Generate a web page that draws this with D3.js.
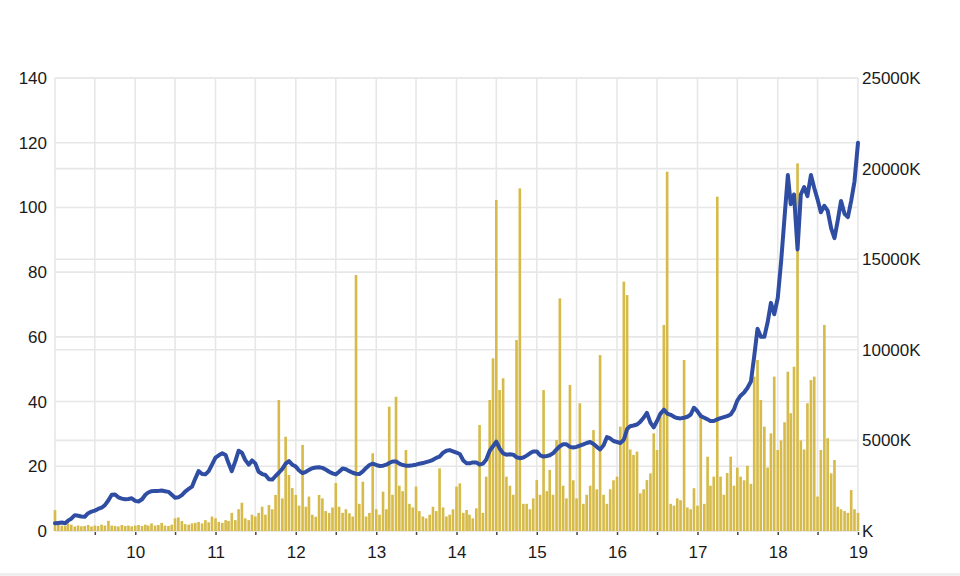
<!DOCTYPE html>
<html>
<head>
<meta charset="utf-8">
<script src="https://cdn.jsdelivr.net/npm/d3@7"></script>
<style>
  html, body { margin: 0; padding: 0; background: #ffffff; }
  svg { display: block; }
  text { font-family: "Liberation Sans", Arial, sans-serif; }
</style>
</head>
<body>
<svg id="chart" width="960" height="576"></svg>
<script>
// ---------------- DATA ----------------
// Semi-monthly observations (1st and 16th of each month), Jan 2009 .. Jan 2019
const startDate = "2009-01-01";
const endDate = "2019-01-01";

// Closing price (left axis)
const price = [
  // 2009
  2.4, 2.5, 2.6, 2.4, 3.2, 3.8, 4.9, 4.7, 4.5, 4.4, 5.5, 6, 6.3, 6.8, 7.2, 8, 9.5, 11.2, 11.3, 10.4, 10, 9.8, 9.9, 10.1,
  // 2010
  9.3, 9.1, 9.8, 11.2, 11.9, 12.3, 12.4, 12.4, 12.5, 12.3, 12.1, 11.2, 10.3, 10.4, 11.1, 12.2, 13, 13.7, 16.2, 18.5, 17.6, 17.5, 18.5, 20.5,
  // 2011
  22.7, 23.4, 24, 23.5, 21, 18.5, 21.5, 24.8, 24.2, 22, 20.5, 21.8, 20.9, 18.3, 17.6, 17.3, 16, 15.9, 17, 18, 19.2, 20.8, 21.6, 20.5,
  // 2012
  19.9, 18.7, 17.9, 18.3, 18.9, 19.4, 19.6, 19.7, 19.5, 19, 18.3, 17.8, 17.5, 18.3, 19.3, 19.1, 18.5, 18, 17.7, 17.6, 18.4, 19.5, 20.4, 20.8,
  // 2013
  20.4, 20.1, 20.2, 20.5, 21, 21.5, 21.5, 20.8, 20.4, 20.2, 20.2, 20.3, 20.5, 20.8, 21, 21.3, 21.6, 22, 22.6, 23, 24.2, 24.8, 25, 24.6,
  // 2014
  24.2, 23.8, 21.8, 20.9, 20.9, 21.2, 21.2, 20.5, 20.8, 22, 24.8, 26.2, 27.6, 25.5, 24, 23.6, 23.7, 23.6, 22.8, 22.5, 22.7, 23.3, 24, 24.6,
  // 2015
  24.6, 23.4, 23, 23.2, 23.4, 24, 25.2, 26.2, 26.8, 26.8, 26, 25.8, 26, 26.4, 26.8, 27.2, 27.5, 26.9, 26, 25.2, 26.5, 29, 28.6, 27.8,
  // 2016
  27.5, 27.2, 28.2, 31.5, 32.4, 32.6, 32.9, 33.8, 35, 36.5, 33.5, 32, 34, 36.2, 37.5, 36.3, 35.9, 35.3, 34.9, 34.8, 35, 35.3, 36, 38.1,
  // 2017
  37, 35.5, 35, 34.5, 34, 34, 34.5, 34.9, 35.2, 35.5, 36, 37.6, 40.3, 41.8, 42.8, 44.2, 46.2, 54, 62.5, 60, 60, 64.5, 70.5, 67,
  // 2018
  72, 83, 97, 110, 101, 104, 87, 104, 106.3, 103.5, 110, 106, 102.5, 98.5, 100.5, 99, 93.5, 90.5, 96, 102, 98, 97, 102, 108,
  // 2019-01-01
  120
];

// Traded volume in thousands of shares (right axis)
const volume = [
  // 2009
  1150, 450, 300, 280, 420, 350, 250, 300, 260, 280, 330, 250, 300, 280, 350, 300, 560, 300, 280, 250, 330, 280, 300, 260,
  // 2010
  300, 330, 280, 350, 300, 420, 300, 330, 450, 300, 280, 350, 700, 750, 550, 380, 350, 420, 450, 500, 420, 600, 480, 800,
  // 2011
  700, 500, 450, 600, 550, 1000, 600, 1200, 1560, 700, 600, 900, 800, 1000, 1340, 900, 1430, 1200, 1990, 7230, 1800, 5200, 3090, 2370,
  // 2012
  1990, 1400, 4750, 1340, 1900, 900, 790, 1990, 1800, 1100, 990, 1300, 2650, 1340, 1000, 1200, 980, 800, 14130, 1500, 2720, 800, 1000, 4290,
  // 2013
  1200, 900, 2170, 1200, 6860, 2000, 7410, 2500, 2200, 4470, 1500, 1300, 2450, 1100, 800, 700, 900, 1340, 1100, 3460, 1300, 800, 900, 1200,
  // 2014
  2450, 2630, 1000, 1160, 900, 700, 1250, 5850, 1000, 3000, 7230, 9530, 18270, 7780, 8430, 3000, 2500, 2000, 10540, 18910, 1500, 1500, 1200, 1800,
  // 2015
  2810, 2000, 7780, 2200, 3370, 2000, 5020, 12840, 2500, 1800, 8060, 2800, 1800, 7050, 1500, 2000, 2500, 5570, 2300, 9710, 2000, 1500, 2300, 2800,
  // 2016
  3000, 5760, 13760, 13020, 4500, 4200, 4380, 2080, 2300, 2810, 3180, 5390, 4470, 6310, 11370, 19830, 1500, 1400, 1800, 1700, 9440, 1300, 1200, 2360,
  // 2017
  1400, 6500, 1500, 4100, 2500, 3000, 18450, 3000, 2000, 3200, 4100, 2500, 3500, 3000, 2800, 3600, 2600, 8520, 9440, 7230, 5760, 3500, 5390, 8520,
  // 2018
  4470, 5000, 6000, 8790, 6500, 9070, 20290, 5000, 4500, 7050, 8330, 8520, 1900, 4470, 11370, 5120, 3180, 3920, 1340, 1200, 1100, 1000, 2260, 1200,
  // 2019-01-01
  1000
];

// Axis ticks
const leftTicks = [0, 20, 40, 60, 80, 100, 120, 140];
const rightTicks = [0, 5000, 10000, 15000, 20000, 25000];       // thousands
const rightTickLabels = ["K", "5000K", "10000K", "15000K", "20000K", "25000K"];
const xTickYears = ["10", "11", "12", "13", "14", "15", "16", "17", "18", "19"];

// ---------------- BUILD ----------------
const parse = d3.timeParse("%Y-%m-%d");
const t0 = parse(startDate), t1 = parse(endDate);
const months = d3.timeMonth.range(t0, t1);
const dates = months.flatMap(m => [m, d3.timeDay.offset(m, 15)]).concat([t1]);
const rows = dates.map((d, i) => ({ date: d, price: price[i], volume: volume[i] }));

const W = 960, H = 576;
const plot = { left: 55, right: 858, top: 78, bottom: 531 };

const svg = d3.select("#chart");
svg.append("rect").attr("width", W).attr("height", H).attr("fill", "#ffffff");
svg.append("rect").attr("x", 0).attr("y", 573).attr("width", W).attr("height", 3).attr("fill", "#efefef");

const x = d3.scaleTime().domain([t0, t1]).range([plot.left, plot.right]);
const yL = d3.scaleLinear().domain([0, 140]).range([plot.bottom, plot.top]);
const yR = d3.scaleLinear().domain([0, 25000]).range([plot.bottom, plot.top]);

// half-year ticks
const halfYears = d3.timeMonth.every(6).range(t0, d3.timeDay.offset(t1, 1));
const gridX = halfYears; // includes left border at t0
const tickX = halfYears.filter(d => d > t0);

const grid = svg.append("g").attr("stroke", "#e7e7e7").attr("stroke-width", 1.6).attr("fill", "none");
grid.selectAll("line.gx").data(gridX).join("line")
  .attr("x1", d => x(d)).attr("x2", d => x(d))
  .attr("y1", plot.top).attr("y2", plot.bottom);
grid.selectAll("line.gl").data(leftTicks).join("line")
  .attr("x1", plot.left).attr("x2", plot.right)
  .attr("y1", d => yL(d)).attr("y2", d => yL(d));
grid.selectAll("line.gr").data(rightTicks).join("line")
  .attr("x1", plot.left).attr("x2", plot.right)
  .attr("y1", d => yR(d)).attr("y2", d => yR(d));

// volume bars
const step = x(dates[1]) - x(dates[0]);
const bw = step * 0.8;
svg.append("g").attr("fill", "#d6bb4b")
  .selectAll("rect").data(rows).join("rect")
  .attr("x", d => x(d.date) - bw / 2)
  .attr("width", bw)
  .attr("y", d => yR(d.volume))
  .attr("height", d => plot.bottom - yR(d.volume));

// price line
const line = d3.line().x(d => x(d.date)).y(d => yL(d.price)).curve(d3.curveLinear);
svg.append("path").datum(rows)
  .attr("d", line)
  .attr("fill", "none")
  .attr("stroke", "#2f4ea3")
  .attr("stroke-width", 4)
  .attr("stroke-linejoin", "round")
  .attr("stroke-linecap", "round");

// axes
const fontSize = "17px";
const axL = d3.axisLeft(yL).tickValues(leftTicks).tickSize(0).tickPadding(8).tickFormat(d3.format("d"));
const gL = svg.append("g").attr("transform", `translate(${plot.left},0)`).call(axL);
const axR = d3.axisRight(yR).tickValues(rightTicks).tickSize(0).tickPadding(4)
  .tickFormat((d, i) => rightTickLabels[i]);
const gR = svg.append("g").attr("transform", `translate(${plot.right},0)`).call(axR);

const yearLabel = d => (d.getMonth() === 0 ? xTickYears[d.getFullYear() - 2010] : "");
const axB = d3.axisBottom(x).tickValues(tickX).tickSize(3).tickPadding(11).tickFormat(yearLabel);
const gB = svg.append("g").attr("transform", `translate(0,${plot.bottom + 1})`).call(axB);

[gL, gR, gB].forEach(g => {
  g.select(".domain").remove();
  g.selectAll("text").attr("font-size", fontSize).attr("fill", "#1a1a1a")
    .attr("font-family", "'Liberation Sans', Arial, sans-serif");
});
gB.selectAll(".tick line").attr("stroke", "#444").attr("stroke-width", 1.5);
</script>
</body>
</html>
